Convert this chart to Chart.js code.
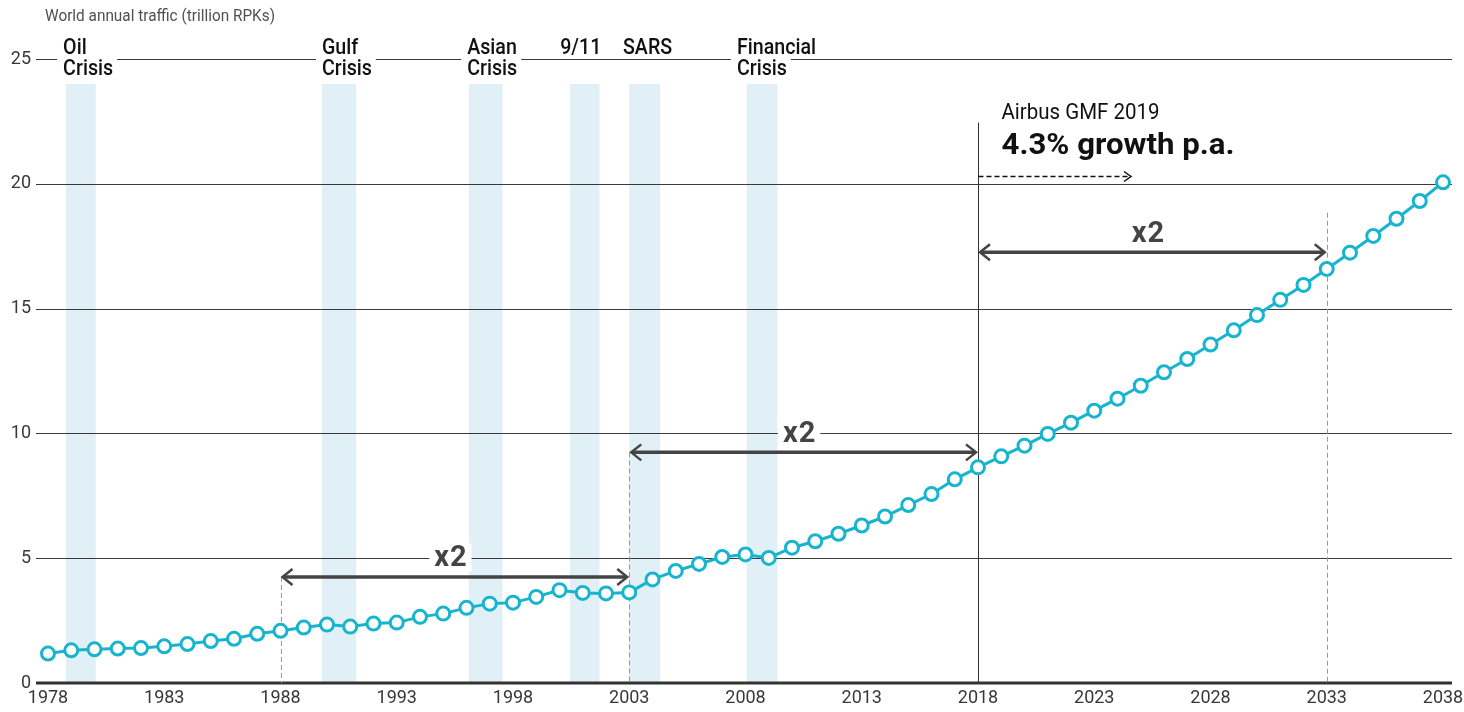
<!DOCTYPE html>
<html><head><meta charset="utf-8">
<script src="https://cdn.jsdelivr.net/npm/chart.js@4.4.1/dist/chart.umd.min.js"></script>
<style>html,body{margin:0;padding:0;background:#fff}#wrap{width:1464px;height:712px;position:relative}</style>
</head><body><div id="wrap"><canvas id="c"></canvas></div>
<script>
const years = [1978,1979,1980,1981,1982,1983,1984,1985,1986,1987,1988,1989,1990,1991,1992,1993,1994,1995,1996,1997,1998,1999,2000,2001,2002,2003,2004,2005,2006,2007,2008,2009,2010,2011,2012,2013,2014,2015,2016,2017,2018,2019,2020,2021,2022,2023,2024,2025,2026,2027,2028,2029,2030,2031,2032,2033,2034,2035,2036,2037,2038];
const traffic = [1.18,1.31,1.35,1.38,1.40,1.47,1.56,1.68,1.77,1.97,
  2.09,2.22,2.34,2.26,2.38,2.42,2.65,2.78,3.01,3.18,
  3.22,3.45,3.72,3.61,3.59,3.63,4.15,4.49,4.77,5.05,
  5.15,5.01,5.42,5.68,5.98,6.31,6.67,7.13,7.57,8.16,
  8.64,9.08,9.51,9.98,10.43,10.91,11.39,11.91,12.45,12.98,
  13.56,14.13,14.74,15.35,15.95,16.59,17.24,17.91,18.60,19.31,
  20.06];
const xTickLabels = [1978,1983,1988,1993,1998,2003,2008,2013,2018,2023,2028,2033,2038];
const yTickLabels = [0,5,10,15,20,25];
const crisisNames = [["Oil","Crisis"],["Gulf","Crisis"],["Asian","Crisis"],["9/11"],["SARS"],["Financial","Crisis"]];
const crisisStart = [1978.77,1989.78,1996.1,2000.45,2003.0,2008.05];
const crisisEnd   = [1980.05,1991.25,1997.55,2001.72,2004.32,2009.37];
const crisisLabelYear = [1978.65,1989.78,1996.03,2000.03,2002.73,2007.63];
const doublingFrom = [1988,2003,2018];
const doublingTo   = [2003,2018,2033];
const doublingLevel = [4.25,9.24,17.26];
const axisTitle = "World annual traffic (trillion RPKs)";
const forecastTitle = "Airbus GMF 2019";
const forecastRate = "4.3% growth p.a.";
const forecastStart = 2018;

const FONT = "Roboto, 'Liberation Sans', sans-serif";
function fitText(ctx, s, x, y, size, weight, color, targetW, ref, align) {
  ctx.save();
  ctx.font = weight + " " + size + "px " + FONT;
  const w = ctx.measureText(ref || s).width;
  const sx = targetW ? targetW / w : 1;
  const sw = ctx.measureText(s).width * sx;
  let dx = 0;
  if (align === 'center') dx = -sw / 2;
  ctx.translate(x + dx, y);
  ctx.scale(sx, 1);
  ctx.fillStyle = color;
  ctx.textAlign = 'left';
  ctx.textBaseline = 'alphabetic';
  ctx.fillText(s, 0, 0);
  ctx.restore();
  return sw;
}
function measureFit(ctx, s, size, weight, targetW, ref) {
  ctx.save();
  ctx.font = weight + " " + size + "px " + FONT;
  const w = ctx.measureText(ref || s).width;
  const sx = targetW ? targetW / w : 1;
  const r = ctx.measureText(s).width * sx;
  ctx.restore();
  return r;
}
function chevron(ctx, tipX, y, dir, len, half) {
  ctx.beginPath();
  ctx.moveTo(tipX + dir * len, y - half);
  ctx.lineTo(tipX, y);
  ctx.lineTo(tipX + dir * len, y + half);
  ctx.stroke();
}

const deco = {
  id: 'deco',
  beforeDatasetsDraw(chart) {
    const ctx = chart.ctx, xs = chart.scales.x, ys = chart.scales.y;
    const X = v => xs.getPixelForValue(v), Y = v => ys.getPixelForValue(v);
    const L = X(1978) - 12, R = X(2038) + 9;
    ctx.save();
    // crisis bands
    ctx.fillStyle = 'rgb(224,240,246)';
    for (let i = 0; i < crisisStart.length; i++) {
      ctx.fillRect(X(crisisStart[i]), Y(24), X(crisisEnd[i]) - X(crisisStart[i]), Y(0) - Y(24));
    }
    // grid lines
    ctx.strokeStyle = '#3a3a3a'; ctx.lineWidth = 1;
    yTickLabels.forEach(v => {
      if (v === 0) return;
      const y = Math.round(Y(v)) + 0.5;
      ctx.beginPath(); ctx.moveTo(L, y); ctx.lineTo(R, y); ctx.stroke();
    });
    // axis line
    ctx.strokeStyle = '#333'; ctx.lineWidth = 3;
    ctx.beginPath(); ctx.moveTo(L, Y(0)); ctx.lineTo(R, Y(0)); ctx.stroke();
    // title
    fitText(ctx, axisTitle, 45, 21, 17, '400', '#505050', 230);
    // crisis labels
    const cSize = 22, cW = '500';
    for (let i = 0; i < crisisNames.length; i++) {
      const x = X(crisisLabelYear[i]);
      crisisNames[i].forEach((line, j) => {
        const base = 54 + j * 21;
        const w = measureFit(ctx, line, cSize, cW, 50, 'Crisis');
        if (j > 0) { ctx.fillStyle = '#fff'; ctx.fillRect(x - 6, base - 17, w + 10, 21); }
        fitText(ctx, line, x, base, cSize, cW, '#111', 50, 'Crisis');
      });
    }
    // vertical dashed lines
    ctx.strokeStyle = '#9a9a9a'; ctx.lineWidth = 1; ctx.setLineDash([5, 3]);
    for (let i = 0; i < 3; i++) {
      const x = Math.round(X(doublingFrom[i])) + 0.5;
      if (doublingFrom[i] !== forecastStart) {
        ctx.beginPath(); ctx.moveTo(x, Y(doublingLevel[i])); ctx.lineTo(x, Y(0)); ctx.stroke();
      }
    }
    const xe = Math.round(X(doublingTo[2])) + 0.5;
    ctx.beginPath(); ctx.moveTo(xe, Y(18.84)); ctx.lineTo(xe, Y(0)); ctx.stroke();
    ctx.setLineDash([]);
    // forecast solid vertical
    const xf = Math.round(X(forecastStart)) + 0.5;
    ctx.strokeStyle = '#333'; ctx.lineWidth = 1;
    ctx.beginPath(); ctx.moveTo(xf, Y(22.45)); ctx.lineTo(xf, Y(0)); ctx.stroke();
    // doubling arrows
    for (let i = 0; i < 3; i++) {
      const y = Y(doublingLevel[i]);
      const x1 = X(doublingFrom[i]) + 2, x2 = X(doublingTo[i]) - 2;
      ctx.strokeStyle = '#444'; ctx.lineWidth = 3.5; ctx.lineCap = 'butt';
      ctx.beginPath(); ctx.moveTo(x1 + 1, y); ctx.lineTo(x2 - 1, y); ctx.stroke();
      ctx.lineWidth = 2.5; ctx.lineJoin = 'miter';
      chevron(ctx, x1, y, 1, 10, 8);
      chevron(ctx, x2, y, -1, 10, 8);
      // x2 label
      const cx = (X(doublingFrom[i]) + X(doublingTo[i])) / 2 - 4;
      const base = y - 10.5;
      ctx.save();
      ctx.font = "700 29px " + FONT;
      ctx.letterSpacing = '1px';
      const w = ctx.measureText('x2').width;
      ctx.fillStyle = '#fff';
      ctx.fillRect(cx - w / 2 - 5, base - 23, w + 9, 28);
      ctx.fillStyle = '#444';
      ctx.textBaseline = 'alphabetic';
      ctx.fillText('x2', cx - w / 2, base);
      ctx.restore();
    }
    // forecast text
    fitText(ctx, forecastTitle, xf + 23, 119, 22, '400', '#111', 158);
    fitText(ctx, forecastRate, xf + 23, 154, 30, '700', '#111', 233);
    // dashed forecast arrow
    const ay = 176.5;
    ctx.strokeStyle = '#111'; ctx.lineWidth = 1.5; ctx.setLineDash([5, 3]);
    ctx.beginPath(); ctx.moveTo(xf, ay); ctx.lineTo(1129, ay); ctx.stroke();
    ctx.setLineDash([]);
    chevron(ctx, 1131, ay, -1, 7, 5);
    ctx.restore();
  }
};

new Chart(document.getElementById('c'), {
  type: 'line',
  data: {
    datasets: [{
      data: years.map((y, i) => ({ x: y, y: traffic[i] })),
      borderColor: '#17b5cd',
      borderWidth: 3,
      pointRadius: 6.5,
      pointBorderWidth: 3,
      pointBackgroundColor: '#fff',
      pointBorderColor: '#17b5cd',
      tension: 0,
      clip: false
    }]
  },
  options: {
    responsive: true,
    maintainAspectRatio: false,
    animation: false,
    layout: { padding: { top: 59, right: 21, left: 0, bottom: 0 } },
    plugins: { legend: { display: false }, tooltip: { enabled: false } },
    scales: {
      x: {
        type: 'linear', min: 1978, max: 2038,
        grid: { display: false, drawTicks: false },
        border: { display: false },
        afterBuildTicks: s => { s.ticks = xTickLabels.map(v => ({ value: v })); },
        afterFit: s => { s.height = 29; s.paddingLeft = 0; s.paddingRight = 0; },
        ticks: { padding: 5, maxRotation: 0, autoSkip: false, color: '#383838',
          font: { family: FONT, size: 18 }, callback: v => String(v) }
      },
      y: {
        min: 0, max: 25,
        grid: { display: false, drawTicks: false },
        border: { display: false },
        afterBuildTicks: s => { s.ticks = yTickLabels.map(v => ({ value: v })); },
        afterFit: s => { s.width = 48; s.paddingTop = 0; s.paddingBottom = 0; },
        ticks: { padding: 17, color: '#383838', font: { family: FONT, size: 18 }, callback: v => String(v) }
      }
    }
  },
  plugins: [deco]
});
</script>
</body></html>
